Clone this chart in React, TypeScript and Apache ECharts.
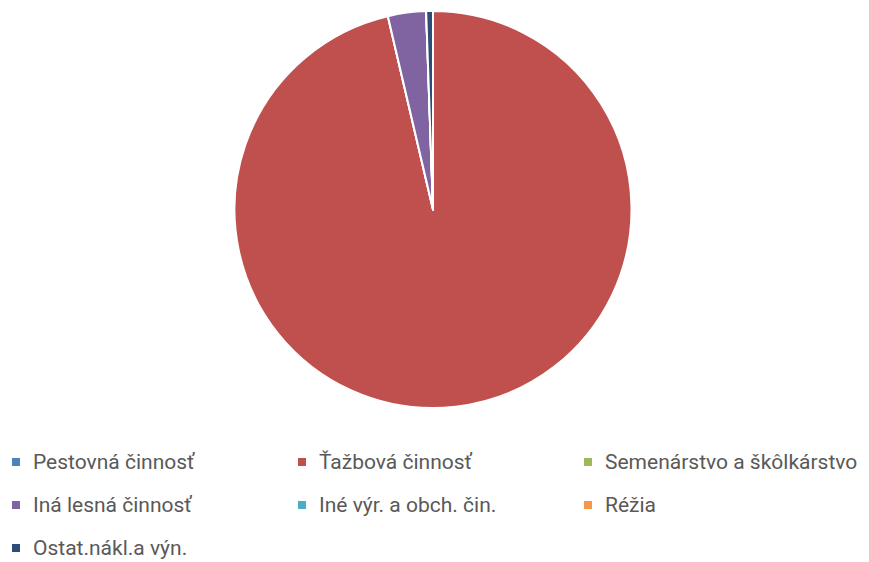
import React, { useEffect, useRef } from "react";
import * as echarts from "echarts";

const categories = [
  "Pestovná činnosť",
  "Ťažbová činnosť",
  "Semenárstvo a škôlkárstvo",
  "Iná lesná činnosť",
  "Iné výr. a obch. čin.",
  "Réžia",
  "Ostat.nákl.a výn.",
];
const values = [0, 96.35, 0, 3.1, 0, 0, 0.55];
const colors = ["#4F81BD", "#C0504D", "#9BBB59", "#8064A2", "#4BACC6", "#F79646", "#2C4D75"];

export default function App() {
  const ref = useRef<HTMLDivElement>(null);
  useEffect(() => {
    if (!ref.current) return;
    const chart = echarts.init(ref.current, null, { renderer: "svg" });
    chart.setOption({
      animation: false,
      color: colors,
      legend: {
        left: 12,
        top: 447,
        width: 869,
        padding: 0,
        orient: "horizontal",
        icon: "rect",
        itemWidth: 8,
        itemHeight: 8,
        itemGap: 13,
        selectedMode: false,
        itemStyle: { borderWidth: 0, borderColor: "transparent" },
        data: categories,
        textStyle: {
          fontFamily: "Roboto",
          fontSize: 21,
          color: "#595959",
          width: 252,
          lineHeight: 30,
          padding: [0, 0, 0, 8],
        },
      },
      series: [
        {
          type: "pie",
          center: [433, 209.5],
          radius: [0, 198.5],
          startAngle: 90,
          clockwise: true,
          label: { show: false },
          labelLine: { show: false },
          itemStyle: { borderColor: "#ffffff", borderWidth: 2 },
          emphasis: { disabled: true },
          data: categories.map((name, i) => ({ name, value: values[i] })),
        },
      ],
    });
    return () => chart.dispose();
  }, []);
  return (
    <div
      ref={ref}
      style={{ position: "fixed", left: 0, top: 0, width: 869, height: 562, background: "#fff" }}
    />
  );
}
